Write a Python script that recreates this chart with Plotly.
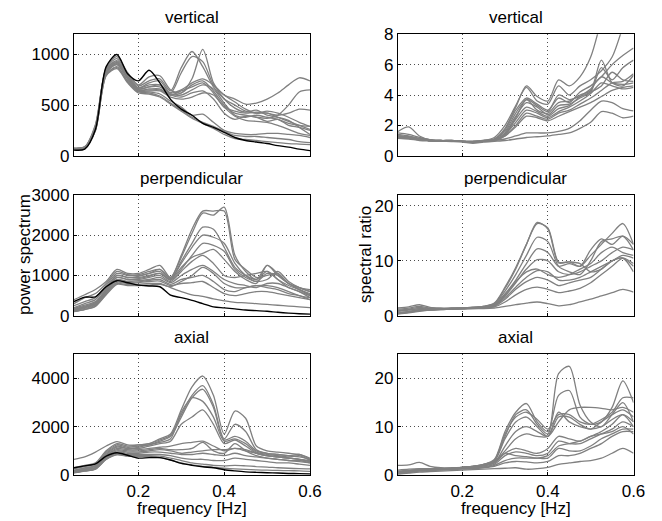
import plotly.graph_objects as go

freq = [0.05, 0.075, 0.1, 0.125, 0.15, 0.175, 0.2, 0.225, 0.25, 0.275, 0.3, 0.325,
        0.35, 0.375, 0.4, 0.425, 0.45, 0.475, 0.5, 0.525, 0.55, 0.575, 0.6]

# ---------------- vertical: power spectrum ----------------
vert_ps_black = [55, 65, 260, 880, 1000, 810, 740, 845, 720, 557, 460, 400, 320, 280, 230, 180, 150, 135, 120, 100, 85, 65, 50]
vert_ps_gray = [
    [75, 85, 300, 860, 960, 800, 690, 740, 760, 640, 870, 1030, 880, 680, 560, 500, 440, 420, 420, 380, 340, 300, 260],
    [75, 90, 310, 870, 980, 820, 700, 780, 790, 650, 620, 760, 1050, 720, 560, 470, 430, 450, 400, 380, 350, 280, 210],
    [70, 85, 290, 850, 940, 790, 670, 720, 740, 620, 820, 980, 930, 700, 600, 530, 460, 420, 440, 420, 380, 330, 290],
    [70, 85, 280, 830, 920, 780, 660, 680, 700, 620, 650, 720, 760, 700, 600, 560, 510, 520, 560, 620, 700, 770, 740],
    [70, 80, 270, 820, 910, 770, 650, 660, 660, 600, 620, 700, 740, 640, 500, 420, 400, 380, 370, 400, 500, 630, 650],
    [65, 80, 270, 820, 900, 760, 650, 650, 650, 600, 640, 680, 720, 620, 480, 440, 420, 430, 420, 400, 420, 460, 450],
    [70, 85, 290, 850, 930, 780, 670, 700, 700, 610, 600, 650, 700, 660, 520, 400, 380, 400, 380, 360, 320, 300, 290],
    [70, 80, 280, 840, 920, 770, 660, 680, 680, 600, 580, 620, 640, 560, 420, 360, 390, 380, 340, 360, 300, 280, 250],
    [65, 80, 270, 820, 900, 760, 640, 640, 640, 580, 560, 580, 620, 600, 480, 390, 350, 340, 330, 300, 260, 220, 200],
    [65, 80, 260, 800, 880, 740, 640, 630, 610, 540, 480, 400, 410, 330, 250, 220, 210, 210, 220, 220, 210, 200, 180],
    [65, 75, 250, 800, 870, 730, 630, 620, 590, 520, 450, 380, 330, 290, 240, 200, 190, 190, 180, 170, 160, 140, 130],
    [60, 75, 250, 790, 860, 720, 620, 610, 580, 510, 440, 370, 320, 270, 210, 170, 160, 150, 140, 130, 120, 115, 110],
]

# ---------------- vertical: spectral ratio ----------------
vert_sr_gray = [
    [1.5, 1.4, 1.2, 1.05, 1.0, 1.0, 0.95, 0.95, 1.0, 1.1, 1.8, 3.2, 4.6, 3.9, 3.6, 5.0, 4.6, 5.2, 6.5, 9.0, 12.0, 14.0, 16.0],
    [1.4, 1.3, 1.15, 1.05, 1.0, 1.0, 0.95, 0.95, 1.0, 1.2, 2.0, 3.3, 4.5, 3.6, 3.4, 4.6, 4.0, 4.6, 5.0, 5.6, 6.5, 8.5, 11.0],
    [1.3, 1.25, 1.1, 1.0, 1.0, 0.95, 0.95, 0.9, 1.0, 1.1, 1.7, 3.0, 3.8, 3.4, 3.0, 3.8, 3.5, 4.2, 4.6, 5.2, 6.0, 6.6, 7.1],
    [1.6, 1.9, 1.3, 1.05, 1.0, 1.0, 0.95, 0.95, 1.0, 1.1, 1.6, 2.8, 3.7, 3.0, 2.8, 3.5, 3.6, 4.0, 4.3, 6.3, 4.8, 4.6, 5.3],
    [1.3, 1.2, 1.1, 1.0, 0.98, 0.97, 0.95, 0.9, 0.95, 1.05, 1.5, 2.6, 3.5, 3.2, 2.7, 3.3, 3.4, 3.8, 4.2, 5.8, 5.0, 5.8, 6.3],
    [1.2, 1.2, 1.1, 1.0, 0.98, 0.97, 0.95, 0.9, 0.95, 1.05, 1.4, 2.4, 3.2, 2.9, 2.6, 3.1, 3.3, 3.9, 4.4, 5.2, 4.8, 4.7, 4.8],
    [1.3, 1.2, 1.1, 1.0, 0.98, 0.97, 0.95, 0.9, 0.95, 1.05, 1.4, 2.2, 3.0, 2.8, 2.5, 2.9, 3.2, 3.6, 4.1, 4.8, 4.6, 4.4, 4.5],
    [1.2, 1.15, 1.05, 1.0, 0.97, 0.96, 0.95, 0.9, 0.95, 1.0, 1.3, 2.0, 2.8, 2.6, 2.4, 2.8, 3.0, 3.4, 3.8, 4.3, 4.8, 4.9, 5.4],
    [1.25, 1.2, 1.1, 1.0, 0.97, 0.96, 0.95, 0.9, 0.95, 1.0, 1.3, 1.9, 2.6, 2.5, 2.3, 2.6, 2.9, 3.2, 3.5, 3.9, 4.3, 4.5, 4.6],
    [1.2, 1.15, 1.05, 1.0, 0.97, 0.96, 0.95, 0.9, 0.95, 1.0, 1.1, 1.3, 1.5, 1.5, 1.5, 1.6, 1.8, 2.3, 3.0, 3.6, 3.5, 3.1, 2.95],
    [1.15, 1.1, 1.0, 0.97, 0.95, 0.93, 0.9, 0.82, 0.9, 0.95, 1.0, 1.1, 1.2, 1.25, 1.3, 1.4, 1.5, 1.8, 2.2, 2.9, 2.8, 2.5, 2.6],
    [1.3, 1.2, 1.1, 1.0, 0.97, 0.96, 0.95, 0.9, 0.95, 1.0, 1.4, 2.5, 3.7, 3.3, 2.9, 4.0, 3.7, 3.9, 4.2, 4.6, 5.5, 5.0, 4.9],
]

# ---------------- perpendicular: power spectrum ----------------
perp_ps_black = [350, 460, 470, 720, 870, 820, 760, 740, 720, 510, 450, 380, 300, 220, 195, 170, 140, 125, 110, 85, 65, 50, 40]
perp_ps_gray = [
    [400, 520, 650, 850, 1150, 1050, 1050, 1150, 1250, 950, 1500, 2150, 2600, 2600, 2600, 1400, 1150, 950, 1000, 1050, 800, 700, 650],
    [300, 450, 550, 800, 1100, 1020, 1020, 1100, 1150, 950, 1450, 2050, 2550, 2500, 2700, 1500, 1100, 900, 1250, 1050, 800, 700, 600],
    [250, 350, 450, 750, 1050, 1000, 1000, 1050, 1100, 900, 1350, 1800, 2200, 2150, 1700, 1200, 1000, 900, 1100, 900, 750, 650, 550],
    [200, 300, 400, 700, 1000, 950, 950, 1000, 1050, 900, 1200, 1450, 1550, 1650, 1400, 1100, 900, 800, 1250, 1000, 800, 650, 500],
    [180, 260, 350, 650, 950, 900, 900, 950, 1000, 850, 1100, 1350, 1500, 1300, 1000, 950, 1000, 1050, 1100, 900, 700, 600, 500],
    [150, 220, 300, 600, 900, 850, 870, 900, 950, 820, 1000, 1150, 1250, 1100, 900, 800, 750, 700, 800, 800, 700, 600, 450],
    [130, 200, 280, 580, 860, 820, 840, 880, 900, 780, 900, 950, 1000, 850, 650, 600, 700, 750, 700, 650, 550, 500, 400],
    [120, 180, 260, 560, 830, 800, 820, 850, 860, 750, 800, 820, 850, 700, 550, 500, 550, 600, 600, 550, 500, 450, 400],
    [110, 160, 240, 540, 800, 770, 780, 800, 800, 700, 600, 520, 480, 420, 370, 330, 320, 300, 280, 260, 240, 220, 200],
    [100, 150, 230, 520, 780, 750, 750, 760, 780, 720, 850, 1000, 1200, 1050, 800, 700, 700, 750, 750, 700, 600, 500, 450],
    [140, 210, 300, 620, 950, 900, 920, 980, 1050, 880, 1150, 1500, 1800, 1750, 1600, 1150, 950, 850, 900, 1100, 850, 700, 600],
    [160, 240, 330, 660, 1000, 950, 980, 1050, 1150, 920, 1300, 1700, 2000, 1950, 1800, 1300, 1000, 850, 1050, 1000, 800, 650, 520],
]

# ---------------- perpendicular: spectral ratio ----------------
perp_sr_gray = [
    [1.4, 1.6, 2.0, 1.5, 1.4, 1.4, 1.4, 1.5, 1.7, 2.2, 5.0, 8.5, 13.0, 16.8, 16.0, 9.8, 9.8, 9.5, 8.0, 8.5, 10.0, 10.5, 9.0],
    [1.2, 1.4, 1.7, 1.4, 1.3, 1.4, 1.4, 1.5, 1.7, 2.3, 5.2, 8.8, 13.0, 17.0, 15.8, 9.6, 9.8, 9.0, 11.0, 13.0, 15.0, 16.8, 13.0],
    [1.0, 1.2, 1.5, 1.3, 1.3, 1.3, 1.4, 1.5, 1.7, 2.1, 4.5, 7.5, 11.0, 14.3, 13.5, 9.0, 8.0, 7.5, 10.0, 13.5, 14.0, 14.5, 12.0],
    [0.8, 1.0, 1.3, 1.2, 1.2, 1.3, 1.4, 1.5, 1.6, 2.0, 4.0, 6.5, 9.5, 12.2, 11.5, 9.0, 9.5, 9.0, 12.0, 14.0, 13.0, 14.5, 13.0],
    [0.6, 0.8, 1.1, 1.1, 1.2, 1.3, 1.4, 1.4, 1.5, 1.9, 3.6, 6.0, 8.5, 10.2, 10.0, 8.0, 7.5, 8.0, 9.0, 10.0, 11.5, 12.5, 12.0],
    [0.5, 0.7, 1.0, 1.1, 1.2, 1.3, 1.3, 1.4, 1.5, 1.8, 3.3, 5.2, 7.0, 8.2, 8.0, 6.5, 6.5, 7.0, 8.0, 9.0, 10.0, 11.0, 10.5],
    [0.5, 0.7, 1.0, 1.1, 1.2, 1.2, 1.3, 1.4, 1.5, 1.7, 3.0, 4.8, 6.2, 7.0, 6.5, 5.5, 6.0, 6.5, 7.0, 8.5, 10.0, 10.5, 8.0],
    [0.4, 0.6, 0.9, 1.0, 1.1, 1.2, 1.3, 1.3, 1.4, 1.6, 2.5, 3.8, 4.8, 5.2, 4.8, 4.2, 4.5, 5.0, 6.0, 7.5, 9.0, 10.5, 9.5],
    [0.3, 0.5, 0.8, 1.0, 1.1, 1.2, 1.2, 1.3, 1.3, 1.4, 1.7, 2.0, 2.3, 2.5, 2.2, 1.8, 2.0, 2.5, 3.0, 3.6, 4.2, 4.8, 4.3],
    [0.9, 1.1, 1.3, 1.2, 1.2, 1.3, 1.3, 1.4, 1.5, 1.9, 3.8, 6.2, 8.0, 8.5, 7.5, 7.0, 7.5, 8.5, 9.5, 11.5, 12.5, 11.5, 11.0],
]

# ---------------- axial: power spectrum ----------------
axial_ps_black = [300, 380, 460, 780, 920, 820, 700, 720, 720, 620, 480, 400, 340, 300, 220, 170, 130, 110, 95, 80, 65, 55, 45]
axial_ps_gray = [
    [650, 750, 950, 1200, 1380, 1250, 1250, 1300, 1500, 1700, 2700, 3650, 4100, 3300, 1700, 2650, 2350, 1200, 1000, 950, 900, 850, 700],
    [300, 400, 500, 1000, 1300, 1200, 1250, 1300, 1450, 1650, 2500, 3300, 3700, 2900, 1500, 2100, 1800, 1050, 900, 850, 800, 750, 650],
    [250, 350, 450, 950, 1250, 1150, 1200, 1250, 1400, 1600, 2400, 3200, 3550, 2800, 1450, 1600, 1400, 1000, 900, 850, 800, 850, 650],
    [200, 300, 400, 900, 1200, 1100, 1150, 1250, 1350, 1500, 2600, 3200, 3050, 2400, 1400, 1500, 1300, 950, 850, 800, 750, 800, 600],
    [180, 280, 380, 850, 1150, 1100, 1100, 1200, 1300, 1400, 2100, 2400, 2700, 2100, 1300, 1450, 1200, 900, 800, 750, 700, 650, 550],
    [150, 250, 350, 800, 1100, 1050, 1050, 1100, 1150, 1200, 1300, 1350, 1400, 1200, 1000, 1100, 1000, 900, 800, 750, 700, 650, 550],
    [140, 230, 320, 780, 1050, 1000, 1000, 1050, 1100, 1050, 1050, 1100, 1350, 1000, 900, 1300, 1000, 800, 700, 650, 600, 600, 500],
    [120, 200, 300, 750, 1000, 950, 950, 1000, 1050, 1000, 900, 950, 1000, 1050, 1050, 1100, 1050, 900, 800, 750, 700, 650, 600],
    [110, 190, 280, 700, 950, 900, 900, 950, 950, 900, 850, 850, 900, 850, 800, 900, 800, 750, 700, 650, 600, 550, 500],
    [100, 180, 260, 680, 900, 850, 850, 850, 850, 800, 700, 650, 650, 600, 600, 700, 650, 600, 550, 500, 500, 450, 400],
    [100, 170, 250, 650, 850, 800, 800, 800, 780, 700, 600, 500, 450, 400, 380, 400, 380, 350, 330, 300, 280, 260, 250],
    [90, 160, 240, 640, 830, 780, 770, 760, 720, 620, 500, 420, 360, 320, 280, 250, 230, 210, 200, 190, 180, 170, 150],
]

# ---------------- axial: spectral ratio ----------------
axial_sr_gray = [
    [1.0, 1.2, 1.3, 1.3, 1.3, 1.4, 1.6, 1.8, 2.2, 3.0, 8.0, 12.5, 13.5, 10.5, 8.5, 21.0, 22.5, 14.5, 11.0, 10.0, 12.5, 15.0, 11.0],
    [0.8, 1.0, 1.2, 1.2, 1.3, 1.4, 1.6, 1.8, 2.2, 3.2, 9.0, 13.0, 14.8, 11.0, 9.0, 16.5, 17.5, 12.0, 10.5, 11.0, 14.0, 19.5, 15.0],
    [0.7, 0.9, 1.1, 1.2, 1.3, 1.4, 1.6, 1.8, 2.2, 3.0, 8.5, 12.0, 13.0, 11.5, 9.5, 12.5, 12.5, 11.0, 10.5, 11.5, 13.0, 16.0, 16.0],
    [0.6, 0.8, 1.0, 1.1, 1.2, 1.3, 1.5, 1.7, 2.0, 2.8, 7.5, 11.0, 12.0, 10.0, 8.0, 12.0, 12.0, 10.5, 9.5, 11.0, 12.5, 13.5, 12.0],
    [2.0, 2.1, 2.6, 1.8, 1.5, 1.5, 1.6, 1.8, 2.0, 2.5, 6.0, 9.0, 10.0, 9.0, 8.0, 11.0, 13.5, 14.0, 14.0, 13.8, 13.5, 14.0, 13.0],
    [0.5, 0.7, 1.0, 1.1, 1.2, 1.3, 1.5, 1.6, 1.9, 2.5, 4.5, 5.5, 5.0, 4.5, 5.5, 8.0, 7.5, 7.0, 8.0, 9.0, 10.5, 12.5, 11.0],
    [0.4, 0.6, 0.9, 1.0, 1.1, 1.2, 1.4, 1.5, 1.7, 2.2, 4.0, 4.8, 4.5, 4.0, 4.5, 7.0, 6.5, 6.5, 7.5, 8.5, 9.5, 11.0, 10.0],
    [0.4, 0.6, 0.9, 1.0, 1.1, 1.2, 1.3, 1.4, 1.6, 2.0, 3.0, 3.5, 3.5, 3.5, 3.5, 5.5, 5.0, 5.0, 6.0, 7.5, 8.5, 9.5, 9.5],
    [0.3, 0.5, 0.8, 0.9, 1.0, 1.1, 1.2, 1.3, 1.5, 1.8, 2.5, 2.8, 2.7, 2.5, 2.8, 4.0, 4.0, 4.5, 5.5, 6.5, 8.0, 9.0, 9.0],
    [0.2, 0.4, 0.6, 0.7, 0.8, 0.9, 1.0, 1.1, 1.2, 1.3, 1.4, 1.5, 1.2, 1.3, 1.6, 2.2, 2.5, 2.8, 3.0, 3.5, 4.5, 5.5, 4.5],
    [0.5, 0.7, 1.0, 1.1, 1.2, 1.3, 1.5, 1.6, 1.9, 2.6, 5.0, 7.5, 8.5, 8.0, 8.0, 13.0, 11.0, 10.0, 9.5, 10.0, 11.5, 12.5, 10.0],
    [0.6, 0.8, 1.0, 1.1, 1.2, 1.3, 1.5, 1.7, 2.0, 2.8, 4.5, 4.0, 3.8, 3.5, 4.0, 6.0, 6.5, 7.0, 8.0, 8.5, 9.0, 10.0, 8.5],
]

row_titles = ["vertical", "perpendicular", "axial"]
x_ticks = [0.2, 0.4, 0.6]
y_ticks = {
    1: [0, 500, 1000], 2: [0, 2, 4, 6, 8],
    3: [0, 1000, 2000, 3000], 4: [0, 10, 20],
    5: [0, 2000, 4000], 6: [0, 10, 20],
}
y_ranges = {1: [0, 1200], 2: [0, 8], 3: [0, 3000], 4: [0, 22], 5: [0, 5000], 6: [0, 25]}

# ---------------- figure ----------------
W, H = 662, 521
FONT = "Liberation Sans, Arial, Helvetica, sans-serif"
FS = 17
GRAY = "rgb(128,128,128)"

col_px = [(74, 310), (398, 633.5)]
row_px = [(34.3, 155.7), (195, 315.7), (354.3, 475)]

panels = {
    1: (vert_ps_gray, vert_ps_black),
    2: (vert_sr_gray, None),
    3: (perp_ps_gray, perp_ps_black),
    4: (perp_sr_gray, None),
    5: (axial_ps_gray, axial_ps_black),
    6: (axial_sr_gray, None),
}

fig = go.Figure()
layout = dict(
    width=W, height=H,
    margin=dict(l=0, r=0, t=0, b=0),
    paper_bgcolor="white", plot_bgcolor="white",
    showlegend=False,
    font=dict(family=FONT, size=FS, color="black"),
)
annotations = []

for k in range(1, 7):
    r = (k - 1) // 2
    c = (k - 1) % 2
    gray, black = panels[k]
    xa = "x" if k == 1 else f"x{k}"
    ya = "y" if k == 1 else f"y{k}"
    for series in gray:
        fig.add_trace(go.Scatter(x=freq, y=series, mode="lines", xaxis=xa, yaxis=ya,
                                 line=dict(color=GRAY, width=1.3, shape="spline", smoothing=0.8),
                                 hoverinfo="skip"))
    if black is not None:
        fig.add_trace(go.Scatter(x=freq, y=black, mode="lines", xaxis=xa, yaxis=ya,
                                 line=dict(color="black", width=1.4, shape="spline", smoothing=0.8),
                                 hoverinfo="skip"))
    x0, x1 = col_px[c]
    y0, y1 = row_px[r]
    xdom = [x0 / W, x1 / W]
    ydom = [1 - y1 / H, 1 - y0 / H]
    common = dict(showline=True, linecolor="black", linewidth=1.3, mirror=True,
                  ticks="inside", ticklen=3, tickcolor="black",
                  showgrid=True, gridcolor="rgba(0,0,0,0.7)", griddash="1px,3px", gridwidth=1,
                  zeroline=False, automargin=False,
                  tickfont=dict(family=FONT, size=FS, color="black"))
    xkey = "xaxis" if k == 1 else f"xaxis{k}"
    ykey = "yaxis" if k == 1 else f"yaxis{k}"
    layout[xkey] = dict(common, domain=xdom, range=[0.05, 0.6], anchor=ya,
                        tickvals=x_ticks, ticktext=["0.2", "0.4", "0.6"],
                        showticklabels=(r == 2))
    layout[ykey] = dict(common, domain=ydom, range=y_ranges[k], anchor=xa,
                        tickvals=y_ticks[k])
    annotations.append(dict(text=row_titles[r], xref="paper", yref="paper",
                            x=(xdom[0] + xdom[1]) / 2, y=ydom[1],
                            xanchor="center", yanchor="bottom", yshift=5,
                            showarrow=False, font=dict(family=FONT, size=FS)))
    if r == 2:
        annotations.append(dict(text="frequency [Hz]", xref="paper", yref="paper",
                                x=(xdom[0] + xdom[1]) / 2, y=1 - 508 / H,
                                xanchor="center", yanchor="middle",
                                showarrow=False, font=dict(family=FONT, size=FS)))

annotations.append(dict(text="power spectrum", xref="paper", yref="paper",
                        x=24 / W, y=1 - 255 / H, textangle=-90,
                        xanchor="center", yanchor="middle", showarrow=False,
                        font=dict(family=FONT, size=FS)))
annotations.append(dict(text="spectral ratio", xref="paper", yref="paper",
                        x=365 / W, y=1 - 255 / H, textangle=-90,
                        xanchor="center", yanchor="middle", showarrow=False,
                        font=dict(family=FONT, size=FS)))
layout["annotations"] = annotations
fig.update_layout(**layout)
fig.write_html("out.html")
